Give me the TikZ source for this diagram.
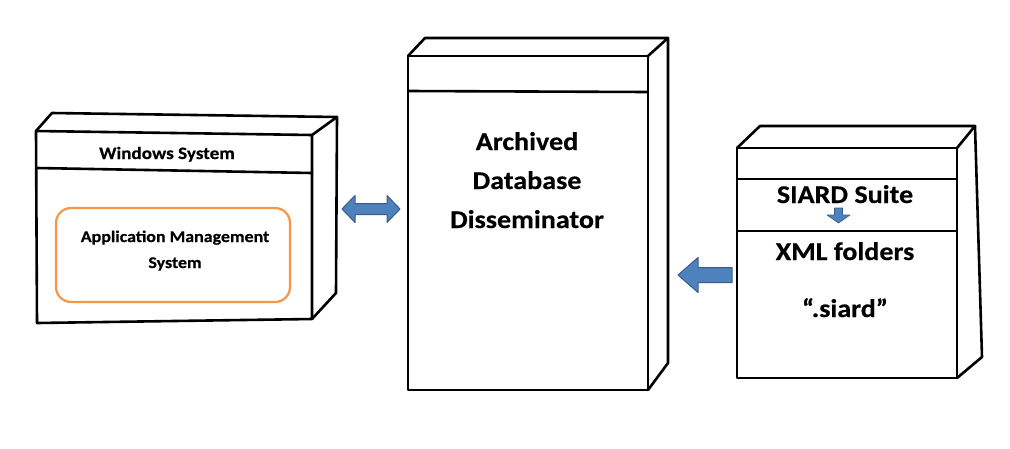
\documentclass[tikz,border=0pt]{standalone}
\usepackage{fontspec}
\setmainfont{Carlito}[BoldFeatures={FakeStretch=1.1,FakeBold=0.4}]
\definecolor{arrowfill}{HTML}{4F81BD}
\definecolor{arrowline}{HTML}{385D8A}
\definecolor{amsorange}{HTML}{F79646}
\begin{document}
\begin{tikzpicture}[x=1pt,y=-1pt,
  edge/.style={line width=2.6pt, line join=round, line cap=round},
  thinedge/.style={line width=1.2pt},
  blockarrow/.style={fill=arrowfill, draw=arrowline, line width=1pt, line join=round},
  smalltxt/.style={font=\bfseries\fontsize{17.4}{20}\selectfont, anchor=base, inner sep=0pt},
  amstxt/.style={font=\bfseries\fontsize{16.3}{20}\selectfont, anchor=base, inner sep=0pt},
  bigtxt/.style={font=\bfseries\fontsize{25.5}{30}\selectfont, anchor=base, inner sep=0pt}]
\useasboundingbox (0,0) rectangle (1010,448);
\fill[white] (0,0) rectangle (1010,448);

% ---------- Left box: Windows System ----------
\coordinate (wFTL) at (36,131);
\coordinate (wFTR) at (312,135);
\coordinate (wFBR) at (312,319);
\coordinate (wFBL) at (37,323);
\coordinate (wBTL) at (52,113);
\coordinate (wBTR) at (337,117);
\coordinate (wBBR) at (336,293);
\draw[edge] (wFTL) -- (wFTR) -- (wFBR) -- (wFBL) -- cycle;
\draw[edge] (wFTL) -- (wBTL) -- (wBTR) -- (wFTR);
\draw[edge] (wBTR) -- (wBBR) -- (wFBR);
\draw[edge] (37,168) -- (312,173);
\node[smalltxt] (wtitle) at (167,159) {Windows System};
\draw[amsorange, line width=2.2pt, rounded corners=15pt] (56,208) rectangle (290,302);
\node[amstxt] (ams1) at (175,242) {Application Management};
\node[amstxt] (ams2) at (175,268) {System};

% ---------- Middle box ----------
\coordinate (mFTL) at (408,56);
\coordinate (mFTR) at (648,56);
\coordinate (mFBR) at (648,390);
\coordinate (mFBL) at (408,390);
\coordinate (mBTL) at (425,38);
\coordinate (mBTR) at (668,38);
\coordinate (mBBR) at (668,363);
\draw[edge] (mFTL) -- (mFTR) -- (mFBR) -- (mFBL) -- cycle;
\draw[edge] (mFTL) -- (mBTL) -- (mBTR) -- (mFTR);
\draw[edge] (mBTR) -- (mBBR) -- (mFBR);
\draw[edge] (408,91) -- (648,92);
\node[bigtxt] (add1) at (527,150) {Archived};
\node[bigtxt] (add2) at (527,189) {Database};
\node[bigtxt] (add3) at (527,228) {Disseminator};

% ---------- Right box ----------
\coordinate (rFTL) at (737,148);
\coordinate (rFTR) at (957,148);
\coordinate (rFBR) at (957,378);
\coordinate (rFBL) at (737,378);
\coordinate (rBTL) at (760,126);
\coordinate (rBTR) at (975,126);
\coordinate (rBBR) at (982,357);
\draw[edge] (rFTL) -- (rFTR) -- (rFBR) -- (rFBL) -- cycle;
\draw[edge] (rFTL) -- (rBTL) -- (rBTR) -- (rFTR);
\draw[edge] (rBTR) -- (rBBR) -- (rFBR);
\draw[edge] (737,179) -- (957,179);
\draw[thinedge] (737,231) -- (957,231);
\node[bigtxt] (siard) at (845,203) {SIARD Suite};
\node[bigtxt] (xml) at (845,260) {XML folders};
\node[bigtxt] (ext) at (845,317) {“.siard”};

% ---------- Block arrows ----------
\draw[blockarrow] (342,209) -- (355,195.5) -- (355,203.5) -- (387,203.5) -- (387,195.5)
  -- (400,209) -- (387,222.5) -- (387,214.5) -- (355,214.5) -- (355,222.5) -- cycle;
\draw[blockarrow] (678,275) -- (698,257.5) -- (698,267.5) -- (732,267.5) -- (732,282.5)
  -- (698,282.5) -- (698,292.5) -- cycle;
\draw[blockarrow, line width=0.6pt] (834.5,208) -- (842.5,208) -- (842.5,215) -- (850,215)
  -- (838.5,223) -- (827,215) -- (834.5,215) -- cycle;
\end{tikzpicture}
\end{document}
